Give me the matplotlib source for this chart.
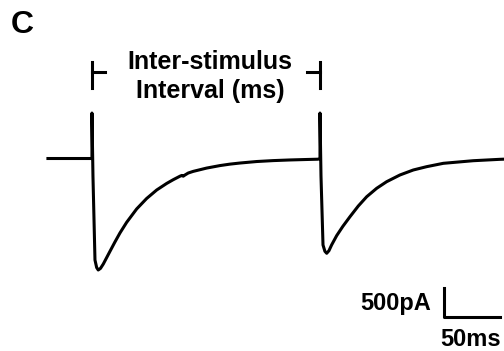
import matplotlib
matplotlib.use("Agg")
import matplotlib.pyplot as plt

trace_t = [-39.3, 0, 0, 0.9, 2.7, 4.2, 5.6, 7.6, 10.1, 16.1, 20.5, 25.0, 31.0, 39.9,
           48.8, 57.8, 66.7, 72.6, 78.6, 80.2, 81.5, 83.0, 86.0, 90.4, 102.4, 114.3,
           123.2, 132.1, 147.1, 161.9, 176.8, 191.7, 201.8, 203.6, 203.6, 204.5,
           206.3, 208.0, 209.6, 211.6, 214.0, 218.5, 224.0, 230.4, 237.8, 245.3,
           254.2, 263.1, 275.0, 286.9, 298.8, 313.7, 340.4, 364.3, 370]
trace_i = [0, 0, 784, -302, -1750, -1880, -1922, -1895, -1820, -1600, -1440, -1284,
           -1100, -870, -690, -543, -430, -365, -305, -292, -305, -285, -250, -222,
           -165, -122, -97, -78, -52, -36, -25, -17, -12, 0, 784, -302, -1491, -1600,
           -1634, -1590, -1490, -1330, -1170, -1003, -819, -659, -514, -400, -284,
           -198, -141, -83, -38, -14, -10]

stim_times = [0, 203.6]
bracket_lo, bracket_hi = 1215, 1664
bracket_mid = 1491
bracket_len = 12

scale_t0, scale_i0 = 314.3, -2733
scale_ms = 50
scale_pa = 500

fig = plt.figure(figsize=(5.04, 3.51), dpi=100)
ax = fig.add_axes([0, 0, 1, 1])
ax.set_xlim(-82.1, 367.9)
ax.set_ylim(-3319, 2733)
ax.axis("off")

lw = 2.2
ax.plot(trace_t, trace_i, color="black", lw=lw, solid_joinstyle="round")

# inter-stimulus bracket
for k, st in enumerate(stim_times):
    ax.plot([st, st], [bracket_lo, bracket_hi], color="black", lw=lw)
    end = st + bracket_len if k == 0 else st - bracket_len
    ax.plot([st, end], [bracket_mid, bracket_mid], color="black", lw=lw)

font = ["Liberation Sans", "DejaVu Sans"]
mid = 105.5
ax.text(mid, 1543, "Inter-stimulus", ha="center", va="baseline", fontsize=18,
        fontweight="bold", family=font)
ax.text(mid + 0.5, 1043, "Interval (ms)", ha="center", va="baseline", fontsize=18,
        fontweight="bold", family=font)

# scale bar
ax.plot([scale_t0, scale_t0, scale_t0 + scale_ms],
        [scale_i0 + scale_pa, scale_i0, scale_i0], color="black", lw=lw)
ax.text(scale_t0 - 12, scale_i0 + 225, "500pA", ha="right", va="center",
        fontsize=17, fontweight="bold", family=font)
ax.text(scale_t0 + 24, scale_i0 - 500, "50ms", ha="center", va="baseline",
        fontsize=17, fontweight="bold", family=font)

fig.text(0.045, 0.929, "C", ha="center", va="center", fontsize=23, fontweight="bold",
         family=font)

fig.savefig("out.png", dpi=100)
